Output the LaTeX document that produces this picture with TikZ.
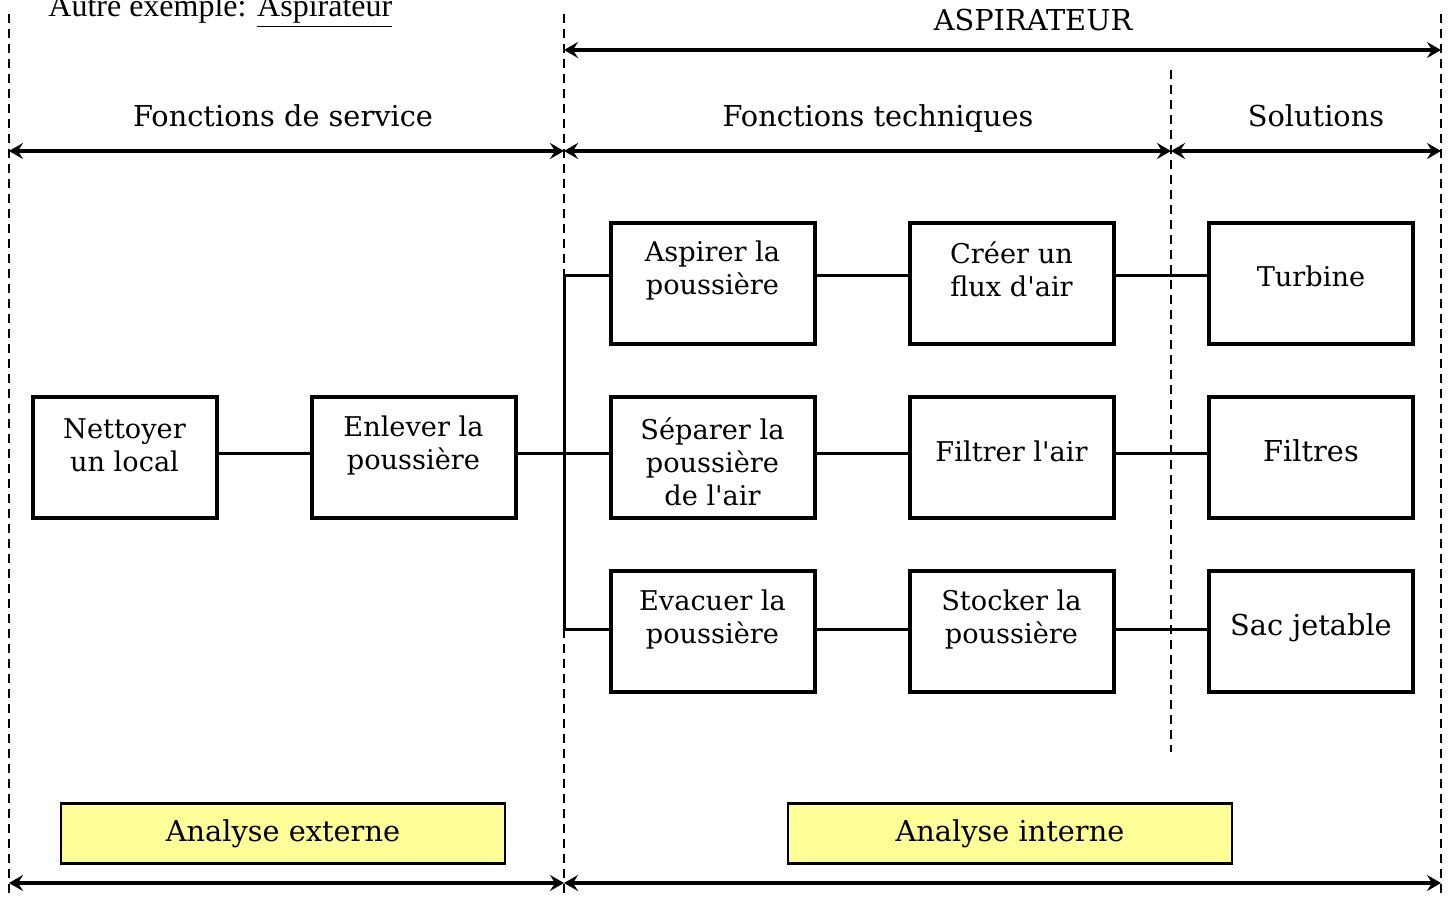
\documentclass[tikz,border=0pt]{standalone}
\usepackage{fontspec}
\setmainfont{DejaVu Serif}
% plain family (no TeX ligature mapping) so that ' stays a straight apostrophe
\newfontfamily\slab{DejaVu Serif}
\newfontfamily\timesfont{Liberation Serif}
\usetikzlibrary{arrows.meta}
\definecolor{tagyellow}{HTML}{FFFF99}
\begin{document}
\begin{tikzpicture}[x=0.5pt,y=-0.5pt,
  fbox/.style={draw, line width=2pt, minimum width=102pt, minimum height=60.5pt, inner sep=0pt},
  ftext/.style={align=center, font=\slab\fontsize{13.6}{16.5}\selectfont, inner sep=0pt},
  wire/.style={line width=1.5pt},
  sepline/.style={line width=1.3pt, dash pattern=on 4.5pt off 3pt},
  span/.style={line width=2pt, {Stealth[length=7pt,width=8pt,inset=2.5pt]}-{Stealth[length=7pt,width=8pt,inset=2.5pt]}},
  head/.style={font=\slab\fontsize{14.4}{17}\selectfont, inner sep=0pt, anchor=base},
  tag/.style={draw, line width=1.1pt, fill=tagyellow, minimum width=222pt, minimum height=30pt,
              inner sep=0pt, font=\slab\fontsize{14.4}{17}\selectfont}]
\useasboundingbox (0,0) rectangle (1453,898);

% column separators
\coordinate (s0t) at (9,14);     \coordinate (s0b) at (9,898);
\coordinate (s1t) at (564,14);   \coordinate (s1b) at (564,898);
\coordinate (s2t) at (1171,70);  \coordinate (s2b) at (1171,752);
\coordinate (s3t) at (1441,14);  \coordinate (s3b) at (1441,898);
\foreach \s in {0,1,2,3} \draw[sepline] (s\s t) -- (s\s b);

% title line
\node[anchor=base west, inner sep=0pt, font=\timesfont\fontsize{16}{19}\selectfont] (title) at (48,17)
  {Autre exemple: \underline{Aspirateur}};

% spans
\node[head] (asp) at (1033,31) {ASPIRATEUR};
\coordinate (a0) at (564,50);  \coordinate (a1) at (1441,50);
\draw[span] (a0) -- (a1);

\node[head] (hserv) at (283,127) {Fonctions de service};
\node[head] (htech) at (878,127) {Fonctions techniques};
\node[head] (hsol)  at (1316,127) {Solutions};
\coordinate (m0) at (9,151);  \coordinate (m1) at (564,151);
\coordinate (m2) at (1171,151); \coordinate (m3) at (1441,151);
\draw[span] (m0) -- (m1);
\draw[span] (m1) -- (m2);
\draw[span] (m2) -- (m3);

\coordinate (b0) at (9,883);  \coordinate (b1) at (564,883);  \coordinate (b2) at (1441,883);
\draw[span] (b0) -- (b1);
\draw[span] (b1) -- (b2);

% function boxes
\node[fbox, minimum width=92pt] (n1) at (124.5,458) {};
\node[fbox] (n2) at (413.5,458) {};
\node[fbox] (f1) at (712.5,284) {};
\node[fbox] (f2) at (712.5,458) {};
\node[fbox] (f3) at (712.5,632) {};
\node[fbox] (g1) at (1011.5,284) {};
\node[fbox] (g2) at (1011.5,458) {};
\node[fbox] (g3) at (1011.5,632) {};
\node[fbox] (h1) at (1311,284) {};
\node[fbox] (h2) at (1311,458) {};
\node[fbox] (h3) at (1311,632) {};

\node[ftext] (tn1) at (124.5,445) {Nettoyer\\un local};
\node[ftext] (tn2) at (413.5,445) {Enlever la\\poussière};
\node[ftext] (tf1) at (712.5,270) {Aspirer la\\poussière};
\node[ftext] (tf2) at (712.5,462) {Séparer la\\poussière\\de l'air};
\node[ftext] (tf3) at (712.5,619) {Evacuer la\\poussière};
\node[ftext] (tg1) at (1011.5,269) {Créer un\\flux d'air};
\node[ftext] (tg2) at (1011.5,451) {Filtrer l'air};
\node[ftext] (tg3) at (1011.5,619) {Stocker la\\poussière};
\node[ftext] (th1) at (1311,276) {Turbine};
\node[ftext, font=\slab\fontsize{14.4}{17}\selectfont] (th2) at (1311,451) {Filtres};
\node[ftext, font=\slab\fontsize{14.4}{17}\selectfont] (th3) at (1311,628) {Sac jetable};

% links
\coordinate (t1) at (564,276);
\coordinate (t3) at (564,630);
\draw[wire] (t1) -- (t3);
\draw[wire] ([yshift=2pt]n1.east) -- ([yshift=2pt]n2.west);
\draw[wire] ([yshift=2pt]n2.east) -- ([yshift=2pt]f2.west);
\draw[wire] (t1) -- ([yshift=4pt]f1.west);
\draw[wire] (t3) -- ([yshift=1pt]f3.west);
\draw[wire] ([yshift=4pt]f1.east) -- ([yshift=4pt]g1.west);
\draw[wire] ([yshift=2pt]f2.east) -- ([yshift=2pt]g2.west);
\draw[wire] ([yshift=1pt]f3.east) -- ([yshift=1pt]g3.west);
\draw[wire] ([yshift=4pt]g1.east) -- ([yshift=4pt]h1.west);
\draw[wire] ([yshift=2pt]g2.east) -- ([yshift=2pt]h2.west);
\draw[wire] ([yshift=1pt]g3.east) -- ([yshift=1pt]h3.west);

% analysis tags
\node[tag] (ext) at (283,833.5) {Analyse externe};
\node[tag] (int) at (1010,833.5) {Analyse interne};
\end{tikzpicture}
\end{document}
